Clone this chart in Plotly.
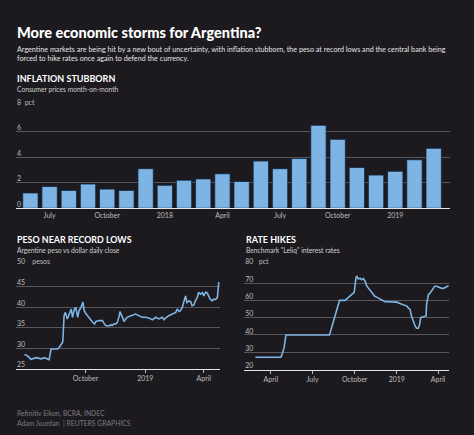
import plotly.graph_objects as go

W, H = 474, 435
BG = "#1c1a1e"
BLUE = "#7db4e4"
GRID = "#58565a"
TICKC = "#bdbdbd"
FONT = "Lato"

# ---------------- data ----------------
months = ["2017-06", "2017-07", "2017-08", "2017-09", "2017-10", "2017-11", "2017-12",
          "2018-01", "2018-02", "2018-03", "2018-04", "2018-05", "2018-06", "2018-07",
          "2018-08", "2018-09", "2018-10", "2018-11", "2018-12",
          "2019-01", "2019-02", "2019-03"]
inflation = [1.2, 1.7, 1.4, 1.9, 1.5, 1.4, 3.1, 1.8, 2.2, 2.3, 2.7, 2.1, 3.7, 3.1,
             3.9, 6.5, 5.4, 3.2, 2.6, 2.9, 3.8, 4.7]
bar_tickvals = ["2017-07", "2017-10", "2018-01", "2018-04", "2018-07", "2018-10", "2019-01"]
bar_ticktext = ["July", "October", "2018", "April", "July", "October", "2019"]
bar_yvals = [0, 2, 4, 6, 8]
bar_ytext = ["0", "2", "4", "6", "8\u00a0\u00a0pct"]

peso_dates = ["2018-06-29", "2018-07-04", "2018-07-09", "2018-07-17", "2018-07-25", "2018-07-30",
              "2018-08-04", "2018-08-06", "2018-08-09", "2018-08-11", "2018-08-19", "2018-08-22",
              "2018-08-24", "2018-08-27", "2018-08-29", "2018-08-31", "2018-09-03", "2018-09-06",
              "2018-09-09", "2018-09-11", "2018-09-14", "2018-09-16", "2018-09-19", "2018-09-21",
              "2018-09-24", "2018-09-27", "2018-09-29", "2018-10-02", "2018-10-04", "2018-10-07",
              "2018-10-12", "2018-10-15", "2018-10-17", "2018-10-22", "2018-10-27", "2018-10-30",
              "2018-11-01", "2018-11-06", "2018-11-09", "2018-11-11", "2018-11-14", "2018-11-17",
              "2018-11-19", "2018-11-22", "2018-11-23", "2018-11-27", "2018-11-29", "2018-12-02",
              "2018-12-04", "2018-12-07", "2018-12-12", "2018-12-17", "2018-12-22", "2018-12-27",
              "2019-01-02", "2019-01-07", "2019-01-12", "2019-01-17", "2019-01-22", "2019-01-27",
              "2019-01-30", "2019-02-01", "2019-02-06", "2019-02-11", "2019-02-17", "2019-02-19",
              "2019-02-22", "2019-02-24", "2019-02-27", "2019-03-01", "2019-03-04", "2019-03-06",
              "2019-03-09", "2019-03-12", "2019-03-14", "2019-03-17", "2019-03-19", "2019-03-22",
              "2019-03-24", "2019-03-27", "2019-03-30", "2019-04-01", "2019-04-04", "2019-04-06",
              "2019-04-09", "2019-04-11", "2019-04-14", "2019-04-16", "2019-04-19", "2019-04-22",
              "2019-04-24", "2019-04-25"]
peso = [28.5, 28.1, 27.3, 27.7, 27.4, 27.7,
        27.3, 27.2, 29.8, 29.8, 29.8, 30.3,
        30.7, 31.5, 37.9, 38.7, 37.1, 38.3,
        39.5, 37.5, 39.5, 39.9, 37.5, 39.1,
        39.9, 41.2, 39.1, 38.3, 37.9, 37.1,
        36.3, 35.9, 36.5, 36.7, 36.7, 35.9,
        35.5, 35.4, 35.7, 35.5, 35.9, 35.9,
        36.3, 37.9, 38.9, 37.5, 36.5, 37.1,
        37.5, 37.7, 38.1, 38.3, 37.9, 37.5,
        37.5, 37.3, 36.9, 37.5, 37.1, 37.5,
        36.9, 37.3, 37.9, 38.3, 38.7, 39.5,
        38.9, 39.1, 39.9, 41.1, 42.7, 41.1,
        41.5, 41.3, 40.3, 40.5, 41.5, 42.3,
        43.6, 43.1, 43.5, 42.7, 43.6, 43.5,
        42.7, 41.9, 41.5, 41.9, 41.8, 42.3,
        45.9, 46.0]
peso_tickvals = ["2018-10-01", "2019-01-01", "2019-04-01"]
peso_ticktext = ["October", "2019", "April"]
peso_yvals = [25, 30, 35, 40, 45, 50]
peso_ytext = ["25", "30", "35", "40", "45", "50\u00a0\u00a0\u00a0\u00a0pesos"]

rate_dates = ["2018-02-26", "2018-04-23", "2018-04-27", "2018-04-30", "2018-05-04", "2018-08-07",
              "2018-08-29", "2018-09-10", "2018-09-30", "2018-10-04", "2018-10-06", "2018-10-09",
              "2018-10-13", "2018-10-16", "2018-10-20", "2018-10-24", "2018-10-27", "2018-10-31",
              "2018-11-03", "2018-11-07", "2018-11-11", "2018-11-14", "2018-11-18", "2018-11-25",
              "2018-12-03", "2018-12-06", "2018-12-10", "2018-12-17", "2018-12-24", "2019-01-01",
              "2019-01-08", "2019-01-15", "2019-01-23", "2019-01-26", "2019-01-30", "2019-02-02",
              "2019-02-06", "2019-02-10", "2019-02-13", "2019-02-17", "2019-02-20", "2019-02-22",
              "2019-02-28", "2019-03-06", "2019-03-07", "2019-03-11", "2019-03-14", "2019-03-18",
              "2019-03-22", "2019-03-25", "2019-03-29", "2019-04-02", "2019-04-05", "2019-04-09",
              "2019-04-13", "2019-04-16", "2019-04-20", "2019-04-24"]
rates = [27.1, 27.1, 30.0, 32.8, 40.0, 40.0,
         60.0, 60.0, 64.7, 73.5, 73.9, 72.4,
         72.9, 72.0, 72.6, 71.0, 68.5, 67.2,
         65.9, 64.3, 63.0, 62.4, 61.9, 60.9,
         59.6, 59.2, 59.2, 59.2, 59.2, 59.0,
         58.2, 57.5, 56.7, 55.7, 54.8, 51.0,
         47.5, 45.2, 43.9, 43.9, 46.2, 50.0,
         50.6, 51.0, 57.7, 63.4, 64.0, 65.3,
         67.2, 68.2, 68.2, 67.8, 67.2, 67.0,
         67.0, 67.4, 67.8, 68.5]
rate_tickvals = ["2018-04-01", "2018-07-01", "2018-10-01", "2019-01-01", "2019-04-01"]
rate_ticktext = ["April", "July", "October", "2019", "April"]
rate_yvals = [20, 30, 40, 50, 60, 70, 80]
rate_ytext = ["20", "30", "40", "50", "60", "70", "80\u00a0\u00a0\u00a0pct"]

# ---------------- helpers ----------------
def px(x):
    return x / W

def py(y):
    return 1 - y / H

fig = go.Figure()

fig.add_trace(go.Bar(x=months, y=inflation, width=0.8, xaxis="x", yaxis="y",
                     marker=dict(color=BLUE, line=dict(color="#0c2440", width=0.8)),
                     hoverinfo="x+y"))
fig.add_trace(go.Scatter(x=peso_dates, y=peso, mode="lines", xaxis="x2", yaxis="y2",
                         line=dict(color=BLUE, width=1.6)))
fig.add_trace(go.Scatter(x=rate_dates, y=rates, mode="lines", xaxis="x3", yaxis="y3",
                         line=dict(color=BLUE, width=1.6)))

yax_common = dict(showgrid=True, gridcolor=GRID, gridwidth=1, zeroline=False, showline=False,
                  ticks="", ticklabelposition="inside top", ticklabeloverflow="allow",
                  ticklabelstandoff=-2, ticklabelshift=1,
                  tickfont=dict(size=7, color=TICKC, family=FONT), fixedrange=True)
xax_common = dict(showgrid=False, zeroline=False, showline=True, linecolor="#e6e6e6", linewidth=1.3,
                  tickfont=dict(size=7, color=TICKC, family=FONT), fixedrange=True)

fig.update_layout(
    width=W, height=H,
    margin=dict(l=0, r=0, t=0, b=0),
    paper_bgcolor=BG, plot_bgcolor=BG,
    showlegend=False,
    font=dict(family=FONT, color="#ffffff"),
    xaxis=dict(domain=[px(16), px(450)], anchor="y", type="category",
               range=[-0.75, 21.85], tickvals=bar_tickvals, ticktext=bar_ticktext,
               ticks="", **xax_common),
    yaxis=dict(domain=[py(204), py(100)], anchor="x", range=[0, 8],
               tickvals=bar_yvals, ticktext=bar_ytext, **yax_common),
    xaxis2=dict(domain=[px(16), px(220)], anchor="y2", type="date",
                range=["2018-06-16", "2019-04-26"], tickvals=peso_tickvals, ticktext=peso_ticktext,
                ticks="outside", ticklen=3, tickcolor="#bdbdbd", **xax_common),
    yaxis2=dict(domain=[py(367.5), py(262.7)], anchor="x2", range=[25, 50],
                tickvals=peso_yvals, ticktext=peso_ytext, **yax_common),
    xaxis3=dict(domain=[px(244.3), px(449)], anchor="y3", type="date",
                range=["2018-02-02", "2019-04-25"], tickvals=rate_tickvals, ticktext=rate_ticktext,
                ticks="outside", ticklen=3, tickcolor="#bdbdbd", **xax_common),
    yaxis3=dict(domain=[py(368.3), py(262.7)], anchor="x3", range=[20, 80],
                tickvals=rate_yvals, ticktext=rate_ytext, **yax_common),
)

def note(text, x, y, size, color="#ffffff", weight="normal"):
    fig.add_annotation(text=text, x=px(x), y=py(y), xref="paper", yref="paper",
                       xanchor="left", yanchor="middle", showarrow=False,
                       font=dict(size=size, color=color, family=FONT, weight=weight))

note("More economic storms for Argentina?", 15, 24.5, 14.5, weight=900)
note("Argentine markets are being hit by a new bout of uncertainty, with inflation stubborn, the peso at record lows and the central bank being",
     15, 42.2, 7.2, color="#e4e4e4")
note("forced to hike rates once again to defend the currency.", 15, 51.8, 7.2, color="#e4e4e4")
note("INFLATION STUBBORN", 15, 72.2, 9.0, weight=700)
note("Consumer prices month-on-month", 15, 83.0, 6.7, color="#cfcfcf")
note("PESO NEAR RECORD LOWS", 15, 236.3, 8.9, weight=700)
note("Argentine peso vs dollar daily close", 15, 247.0, 6.7, color="#cfcfcf")
note("RATE HIKES", 243.5, 236.3, 9.0, weight=700)
note("Benchmark \"Leliq\" interest rates", 243.5, 247.0, 6.7, color="#cfcfcf")
note("Refinitiv Eikon, BCRA, INDEC", 15, 413.3, 6.8, color="#7d7b7f")
note("Adam Jourdan\u00a0\u00a0| REUTERS GRAPHICS", 15, 422.7, 6.8, color="#7d7b7f")

fig.write_html("out.html", config={"displayModeBar": False},
               post_script="document.body.style.margin='0';document.body.style.overflow='hidden';document.body.style.background='" + BG + "';")
